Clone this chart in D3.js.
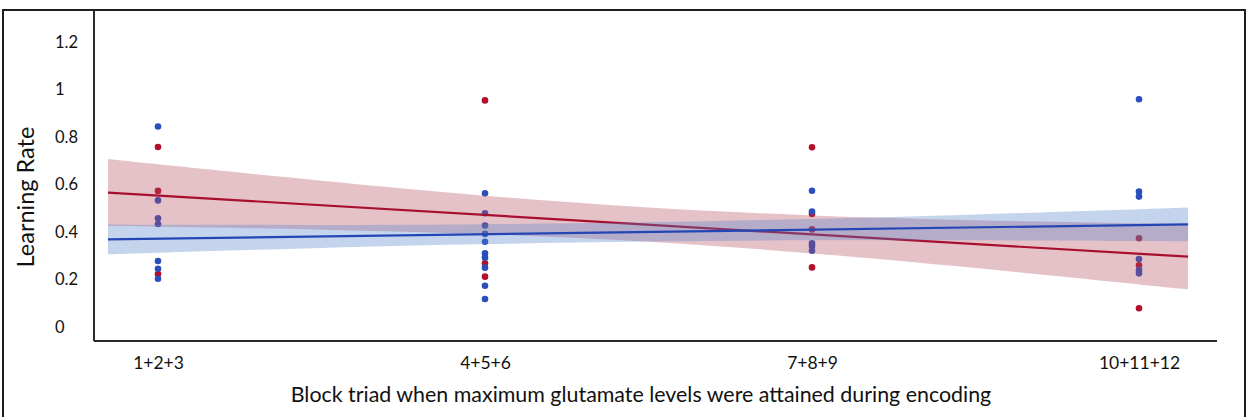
<!DOCTYPE html>
<html>
<head>
<meta charset="utf-8">
<script src="https://cdn.jsdelivr.net/npm/d3@7"></script>
<style>
  html, body { margin: 0; padding: 0; background: #fff; }
  svg { display: block; }
  text { font-family: Lato, "Open Sans", sans-serif; fill: #111; }
</style>
</head>
<body>
<svg id="chart" width="1247" height="417"></svg>
<script>
// Block triads on the x axis
const categories = ["1+2+3", "4+5+6", "7+8+9", "10+11+12"];
const yTicks = [0, 0.2, 0.4, 0.6, 0.8, 1, 1.2];

// Individual learning rates, blue group
const blueBlock = [0, 0, 0, 0, 0, 0, 0,
                   1, 1, 1, 1, 1, 1, 1, 1, 1, 1,
                   2, 2, 2, 2, 2,
                   3, 3, 3, 3, 3, 3];
const blueRate  = [0.844, 0.533, 0.458, 0.434, 0.278, 0.245, 0.203,
                   0.563, 0.479, 0.427, 0.392, 0.359, 0.310, 0.292, 0.250, 0.174, 0.118,
                   0.574, 0.486, 0.352, 0.341, 0.321,
                   0.959, 0.570, 0.549, 0.286, 0.240, 0.226];

// Individual learning rates, red group
const redBlock = [0, 0, 0, 1, 1, 1, 2, 2, 2, 2, 3, 3, 3];
const redRate  = [0.758, 0.573, 0.223,
                  0.954, 0.268, 0.212,
                  0.757, 0.476, 0.411, 0.251,
                  0.374, 0.260, 0.079];

// Linear fits (value at each end of the fitted range)
const fitBlock = [-0.153, 3.15];
const redFit   = [0.566, 0.296];
const blueFit  = [0.369, 0.432];

// Confidence bands of the fits
const bandBlock = [-0.153, 0, 0.5, 1, 1.5, 2, 2.5, 3, 3.15];
const redUpper  = [0.707, 0.685, 0.616, 0.553, 0.503, 0.470, 0.450, 0.437, 0.435];
const redLower  = [0.425, 0.422, 0.410, 0.391, 0.359, 0.310, 0.248, 0.179, 0.158];
const blueUpper = [0.432, 0.431, 0.430, 0.433, 0.441, 0.455, 0.474, 0.496, 0.503];
const blueLower = [0.306, 0.313, 0.333, 0.349, 0.360, 0.365, 0.365, 0.362, 0.361];

const svg = d3.select("#chart");

const x = d3.scaleLinear().domain([0, 3]).range([158, 1139]);
const y = d3.scaleLinear().domain([-0.0589, 1.3305]).range([341, 11]);

const RED = "#b3102c", BLUE = "#2a4fbd";

// outer frame
svg.append("rect")
  .attr("x", 3).attr("y", 10).attr("width", 1242).attr("height", 430)
  .attr("fill", "none").attr("stroke", "#1e1e1e").attr("stroke-width", 2);

// dots (drawn first so the translucent bands tint them)
const dots = svg.append("g");
dots.selectAll(".r").data(redRate).join("circle").attr("class", "r")
  .attr("cx", (d, i) => x(redBlock[i])).attr("cy", d => y(d))
  .attr("r", 3.3).attr("fill", RED);
dots.selectAll(".b").data(blueRate).join("circle").attr("class", "b")
  .attr("cx", (d, i) => x(blueBlock[i])).attr("cy", d => y(d))
  .attr("r", 3.3).attr("fill", BLUE);

const band = (upper, lower) => d3.area()
  .x((d, i) => x(bandBlock[i]))
  .y0((d, i) => y(lower[i]))
  .y1((d, i) => y(upper[i]))
  .curve(d3.curveNatural)(bandBlock);

const fitLine = vals => d3.line()
  .x((d, i) => x(fitBlock[i]))
  .y((d, i) => y(vals[i]))(fitBlock);

svg.append("path").attr("d", band(redUpper, redLower))
  .attr("fill", "#b24b5c").attr("fill-opacity", 0.34);
svg.append("path").attr("d", fitLine(redFit))
  .attr("fill", "none").attr("stroke", "#a80f2e").attr("stroke-width", 2.2);
svg.append("path").attr("d", band(blueUpper, blueLower))
  .attr("fill", "#5481c9").attr("fill-opacity", 0.34);
svg.append("path").attr("d", fitLine(blueFit))
  .attr("fill", "none").attr("stroke", "#2446b5").attr("stroke-width", 2.2);

// axis lines
svg.append("line").attr("x1", 94).attr("x2", 94).attr("y1", 11).attr("y2", 341)
  .attr("stroke", "#2b2b2b").attr("stroke-width", 2);
svg.append("line").attr("x1", 94).attr("x2", 1217).attr("y1", 341).attr("y2", 341)
  .attr("stroke", "#2b2b2b").attr("stroke-width", 2);

// y tick labels
const yAxis = svg.append("g").attr("transform", "translate(55,0)")
  .call(d3.axisLeft(y).tickValues(yTicks).tickSize(0).tickPadding(0)
        .tickFormat(d => d3.format("~g")(d)));
yAxis.select(".domain").remove();
yAxis.selectAll("text")
  .attr("x", 0).attr("text-anchor", "start")
  .style("font-family", "Lato, sans-serif").style("font-size", "16.5px").attr("fill", "#111");

// x tick labels
const xAxis = svg.append("g").attr("transform", "translate(0,341)")
  .call(d3.axisBottom(x).tickValues([0, 1, 2, 3]).tickSize(0).tickPadding(0)
        .tickFormat(i => categories[i]));
xAxis.select(".domain").remove();
xAxis.selectAll("text")
  .attr("y", 22).attr("dy", "0.35em")
  .style("font-family", "Lato, sans-serif").style("font-size", "17.5px").attr("fill", "#111");

// axis titles
svg.append("text")
  .attr("x", 641).attr("y", 395).attr("dy", "0.35em").attr("text-anchor", "middle")
  .style("font-size", "21.4px")
  .text("Block triad when maximum glutamate levels were attained during encoding");

svg.append("text")
  .attr("transform", "translate(26,197) rotate(-90)")
  .attr("dy", "0.35em").attr("text-anchor", "middle")
  .style("font-size", "23.5px")
  .text("Learning Rate");
</script>
</body>
</html>
